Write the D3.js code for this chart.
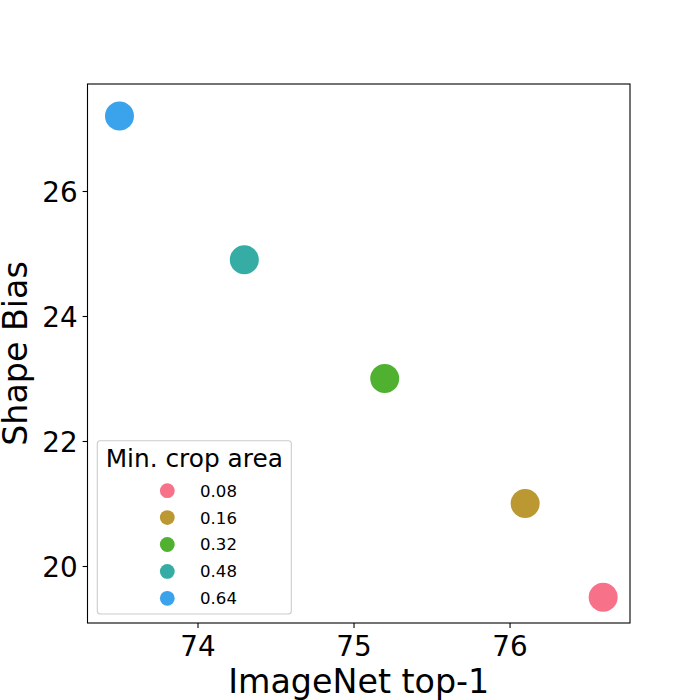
<!DOCTYPE html>
<html>
<head>
<meta charset="utf-8">
<script src="https://cdn.jsdelivr.net/npm/d3@7"></script>
<style>
  html, body { margin: 0; padding: 0; background: #fff; }
  svg { display: block; font-family: "DejaVu Sans", sans-serif; }
</style>
</head>
<body>
<svg id="chart" width="700" height="700"></svg>
<script>
// ---- data ----
const cropAreas = ["0.08", "0.16", "0.32", "0.48", "0.64"];
const top1 = [76.6, 76.1, 75.2, 74.3, 73.5];
const shapeBias = [19.5, 21.0, 23.0, 24.9, 27.2];
const colors = ["#f77189", "#bb9832", "#50b131", "#36ada4", "#3ba3ec"];
const xTicks = [74, 75, 76];
const yTicks = [20, 22, 24, 26];
const xDomain = [73.295, 76.772];
const yDomain = [19.088, 27.712];
const xLabel = "ImageNet top-1";
const yLabel = "Shape Bias";
const legendTitle = "Min. crop area";

const points = cropAreas.map((c, i) => ({ c, x: top1[i], y: shapeBias[i], color: colors[i] }));

// ---- layout ----
const L = 87.5, R = 630, T = 84, B = 623;
const svg = d3.select("#chart");

const x = d3.scaleLinear().domain(xDomain).range([L, R]);
const y = d3.scaleLinear().domain(yDomain).range([B, T]);

// points
svg.append("g").selectAll("circle").data(points).join("circle")
  .attr("cx", d => x(d.x))
  .attr("cy", d => y(d.y))
  .attr("r", 14.5)
  .attr("fill", d => d.color);

// axes
const tickFont = "27.8px";
const xAxis = svg.append("g").attr("transform", `translate(0,${B})`)
  .call(d3.axisBottom(x).tickValues(xTicks).tickSize(4.9).tickPadding(4.9).tickFormat(d3.format("d")));
const yAxis = svg.append("g").attr("transform", `translate(${L},0)`)
  .call(d3.axisLeft(y).tickValues(yTicks).tickSize(4.9).tickPadding(4.9).tickFormat(d3.format("d")));
[xAxis, yAxis].forEach(a => {
  a.select(".domain").remove();
  a.selectAll(".tick line").attr("stroke", "#000").attr("stroke-width", 1.1);
  a.selectAll(".tick text").attr("fill", "#000")
    .style("font-family", "DejaVu Sans").style("font-size", tickFont);
});
xAxis.selectAll(".tick text").attr("dy", null).attr("y", 0)
  .attr("dominant-baseline", "auto").attr("transform", "translate(0,33)");
yAxis.selectAll(".tick text").attr("dy", "0.36em");

// frame
svg.append("rect")
  .attr("x", L).attr("y", T).attr("width", R - L).attr("height", B - T)
  .attr("fill", "none").attr("stroke", "#000").attr("stroke-width", 1.1);

// axis labels
svg.append("text")
  .attr("x", (L + R) / 2).attr("y", 692.5)
  .attr("text-anchor", "middle")
  .style("font-size", "33.3px").attr("fill", "#000")
  .text(xLabel);
svg.append("text")
  .attr("transform", `translate(26.5,${(T + B) / 2}) rotate(-90)`)
  .attr("text-anchor", "middle")
  .style("font-size", "33.3px").attr("fill", "#000")
  .text(yLabel);

// legend
const lg = svg.append("g");
lg.append("rect")
  .attr("x", 97.3).attr("y", 440.7).attr("width", 194).attr("height", 173.3)
  .attr("rx", 3).attr("ry", 3)
  .attr("fill", "#fff").attr("fill-opacity", 0.8)
  .attr("stroke", "#cccccc").attr("stroke-width", 1.1);
lg.append("text")
  .attr("x", 194.3).attr("y", 466.5)
  .attr("text-anchor", "middle")
  .style("font-size", "24.8px").attr("fill", "#000")
  .text(legendTitle);
const rowY = d3.scalePoint().domain(cropAreas).range([490.7, 598.3]);
const rows = lg.selectAll("g.row").data(points).join("g").attr("class", "row")
  .attr("transform", d => `translate(0,${rowY(d.c)})`);
rows.append("circle").attr("cx", 167.3).attr("cy", 0).attr("r", 7.4).attr("fill", d => d.color);
rows.append("text").attr("x", 200).attr("y", 0).attr("dy", "0.36em")
  .style("font-size", "16.6px").attr("fill", "#000")
  .text(d => d.c);
</script>
</body>
</html>
